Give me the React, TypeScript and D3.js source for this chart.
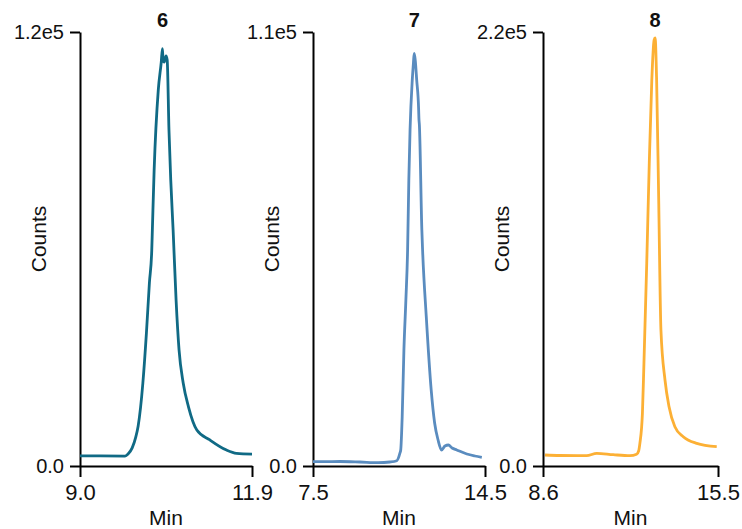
import React, { useRef, useEffect } from 'react'
import * as d3 from 'd3'

// peak labels
const titles = ['6', '7', '8']
// axis ranges (minutes, counts)
const xDomains: [number, number][] = [[9.0, 11.9], [7.5, 14.5], [8.6, 15.5]]
const yMax = [1.2e5, 1.1e5, 2.2e5]
const yMaxLabels = ['1.2e5', '1.1e5', '2.2e5']
const colors = ['#106a85', '#5a8cbf', '#fcb035']

// chromatogram traces: [min, counts]
const trace6: [number, number][] = [
  [9.0, 2800], [9.34, 2800], [9.76, 2750], [9.81, 3300], [9.88, 5000], [9.94, 8000],
  [9.98, 11000], [10.06, 22950], [10.12, 36800], [10.17, 50600], [10.21, 59700],
  [10.22, 65250], [10.25, 81800], [10.32, 104000], [10.37, 111700], [10.39, 115400],
  [10.40, 112300], [10.42, 111700], [10.45, 113400], [10.47, 112300], [10.50, 92900],
  [10.53, 79100], [10.57, 65250], [10.62, 45900], [10.67, 32100], [10.74, 22950],
  [10.83, 16300], [10.97, 9950], [11.19, 7200], [11.47, 4400], [11.64, 3500], [11.9, 3300]
]
const trace7: [number, number][] = [
  [7.5, 1090], [8.6, 1140], [9.41, 1010], [10.15, 840], [10.63, 1010], [10.91, 1340],
  [11.04, 3300], [11.07, 4060], [11.13, 12500], [11.20, 29400], [11.28, 42100],
  [11.35, 54760], [11.40, 72500], [11.45, 85200], [11.54, 97850], [11.59, 102400],
  [11.62, 104600], [11.66, 102900], [11.72, 97850], [11.80, 90250], [11.81, 88200],
  [11.83, 86400], [11.93, 59800], [11.96, 54760], [12.11, 37850], [12.31, 19270],
  [12.45, 10900], [12.59, 6590], [12.73, 4060], [12.87, 5070], [13.01, 5320],
  [13.16, 4560], [13.35, 4060], [13.76, 3040], [14.09, 2535], [14.37, 2200]
]
const trace8: [number, number][] = [
  [8.68, 5576], [9.27, 5320], [10.32, 5220], [10.72, 6440], [11.37, 5730], [12.03, 5220],
  [12.29, 5930], [12.37, 7600], [12.42, 11500], [12.52, 26700], [12.58, 52060],
  [12.69, 102750], [12.79, 153400], [12.89, 195660], [12.98, 215900], [13.02, 216950],
  [13.08, 195660], [13.16, 136500], [13.25, 68940], [13.41, 43600], [13.57, 30060],
  [13.80, 19920], [14.13, 14850], [14.66, 11500], [15.45, 9780]
]
const traces = [trace6, trace7, trace8]

const panelLeft = [80, 313, 543]
const panelRight = [252, 485, 718]
const top = 32, bottom = 466
const font = '"Liberation Sans", Arial, Helvetica, sans-serif'

export default function App() {
  const svgRef = useRef<SVGSVGElement>(null)

  useEffect(() => {
    const svg = d3.select(svgRef.current)
    svg.selectAll('*').remove()

    traces.forEach((data, i) => {
      const x = d3.scaleLinear().domain(xDomains[i]).range([panelLeft[i], panelRight[i]])
      const y = d3.scaleLinear().domain([0, yMax[i]]).range([bottom, top])
      const g = svg.append('g')

      const fmtX = (d: number) => d.toFixed(1)
      const xAxis = g.append('g').attr('transform', `translate(0,${bottom})`)
        .call(d3.axisBottom(x).tickValues(xDomains[i]).tickFormat(fmtX as any).tickSize(11).tickSizeOuter(0).tickPadding(7))
      xAxis.selectAll('text').attr('font-size', '22px').attr('fill', '#111').attr('font-family', font)

      const yAxis = g.append('g').attr('transform', `translate(${panelLeft[i]},0)`)
        .call(d3.axisLeft(y).tickValues([0, yMax[i]]).tickFormat((d: any) => d === 0 ? '0.0' : yMaxLabels[i]).tickSize(10).tickSizeOuter(0).tickPadding(6))
      yAxis.selectAll('text').attr('font-size', '20px').attr('fill', '#111').attr('font-family', font)

      g.selectAll('.domain, .tick line').attr('stroke', '#000').attr('stroke-width', 2)

      g.append('path')
        .datum(data)
        .attr('fill', 'none')
        .attr('stroke', colors[i])
        .attr('stroke-width', 2.8)
        .attr('stroke-linejoin', 'round')
        .attr('d', d3.line<[number, number]>().x(d => x(d[0])).y(d => y(d[1])).curve(d3.curveMonotoneX))

      const peak = data.reduce((a, b) => (b[1] > a[1] ? b : a))
      g.append('text')
        .attr('x', x(peak[0])).attr('y', 27)
        .attr('text-anchor', 'middle').attr('font-weight', 'bold')
        .attr('font-size', '20px').attr('font-family', font).attr('fill', '#111')
        .text(titles[i])

      g.append('text')
        .attr('x', (panelLeft[i] + panelRight[i]) / 2).attr('y', 525)
        .attr('text-anchor', 'middle').attr('font-size', '21px').attr('font-family', font).attr('fill', '#111')
        .text('Min')

      g.append('text')
        .attr('transform', `translate(${panelLeft[i] - 34},239) rotate(-90)`)
        .attr('text-anchor', 'middle').attr('font-size', '21px').attr('font-family', font).attr('fill', '#111')
        .text('Counts')
    })
  }, [])

  return (
    <svg ref={svgRef} width={742} height={529}
      style={{ position: 'absolute', left: 0, top: 0, background: '#fff' }} />
  )
}
